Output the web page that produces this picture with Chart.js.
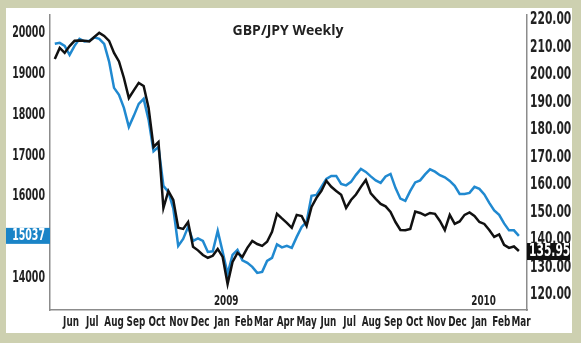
<!DOCTYPE html>
<html>
<head>
<meta charset="utf-8">
<script src="https://cdn.jsdelivr.net/npm/chart.js@4/dist/chart.umd.min.js"></script>
<style>
  html, body { margin: 0; padding: 0; background: #cdd0b0; }
  #box { position: relative; width: 581px; height: 343px; }
</style>
</head>
<body>
<div id="box"><canvas id="chart" width="581" height="343"></canvas></div>
<script>
/** Data */
const title = 'GBP/JPY Weekly';
const firstWeek = '2008-05-23';
const monthLabels = ['Jun', 'Jul', 'Aug', 'Sep', 'Oct', 'Nov', 'Dec', 'Jan', 'Feb', 'Mar', 'Apr', 'May',
                     'Jun', 'Jul', 'Aug', 'Sep', 'Oct', 'Nov', 'Dec', 'Jan', 'Feb', 'Mar'];
const yearLabels = ['2009', '2010'];
const leftTicks = [14000, 16000, 17000, 18000, 19000, 20000];
const rightTicks = [120, 130, 140, 150, 160, 170, 180, 190, 200, 210, 220];

// black line, right scale
const gbpjpy = [205.8, 209.8, 208.0, 210.5, 212.4, 212.5, 212.4, 212.2, 213.8, 215.3,
  214.2, 212.4, 208.0, 204.9, 198.9, 191.6, 194.4, 197.1, 196.0, 188.0,
  173.8, 175.6, 151.6, 157.8, 154.5, 144.4, 144.0, 146.5, 137.5, 136.2,
  134.5, 133.5, 134.2, 136.7, 133.8, 124.0, 132.0, 135.3, 133.8, 137.1,
  139.6, 138.5, 137.8, 139.3, 142.9, 149.5, 147.8, 146.2, 144.4, 149.1,
  148.7, 145.1, 152.0, 155.3, 157.8, 161.5, 159.3, 157.8, 156.4, 151.6,
  154.5, 156.5, 159.3, 161.8, 156.9, 154.9, 153.1, 152.2, 150.2, 146.5,
  143.6, 143.5, 144.0, 150.3, 149.8, 148.9, 149.8, 149.5, 146.9, 143.6,
  149.1, 145.8, 146.7, 149.1, 150.0, 148.7, 146.5, 145.8, 143.6, 141.1,
  142.0, 138.2, 137.1, 137.6, 135.95];

// blue line, left scale
const leftSeries = [19743, 19767, 19694, 19473, 19694, 19865, 19804, 19816, 19902, 19865,
  19743, 19309, 18664, 18493, 18174, 17708, 17978, 18272, 18395, 17880,
  17108, 17218, 16262, 16115, 15711, 14792, 14963, 15257, 14914, 14975,
  14914, 14644, 14657, 15159, 14644, 14105, 14571, 14694, 14436, 14375,
  14277, 14130, 14155, 14424, 14498, 14828, 14755, 14792, 14743, 15012,
  15257, 15380, 16017, 16042, 16238, 16434, 16507, 16507, 16311, 16274,
  16360, 16532, 16679, 16605, 16495, 16397, 16336, 16495, 16556, 16213,
  15949, 15895, 16140, 16346, 16397, 16542, 16667, 16610, 16525, 16471,
  16385, 16262, 16066, 16066, 16091, 16238, 16189, 16054, 15846, 15662,
  15551, 15343, 15172, 15172, 15037];

/** Helpers: x axis is days since 1 Jun 2008 */
const DAY = 86400000;
const origin = Date.UTC(2008, 5, 1);
const dayOf = (y, m, d) => (Date.UTC(y, m, d) - origin) / DAY;
const start = (Date.parse(firstWeek) - origin) / DAY;
const weekX = gbpjpy.map((_, i) => start + 7 * i);
const monthTicks = monthLabels.map((_, i) => dayOf(2008, 5 + i, 15));
const yearTicks = yearLabels.map(y => dayOf(+y, 0, 21));

// condensed look: DejaVu Condensed squeezed horizontally
const narrow = '"DejaVu Sans Condensed", "DejaVu Sans", sans-serif';
const SQUEEZE = 0.7;

function narrowText(ctx, text, x, y, size, align, color) {
  ctx.save();
  ctx.font = 'bold ' + size + 'px ' + narrow;
  ctx.fillStyle = color;
  ctx.textAlign = align;
  ctx.textBaseline = 'middle';
  ctx.translate(x, y);
  ctx.scale(SQUEEZE, 1);
  ctx.fillText(text, 0, 0);
  ctx.restore();
}

const decor = {
  id: 'decor',
  beforeDraw(chart) {
    const ctx = chart.ctx;
    ctx.save();
    ctx.fillStyle = '#cdd0b0';
    ctx.fillRect(0, 0, chart.width, chart.height);
    ctx.fillStyle = '#ffffff';
    ctx.fillRect(6, 8, 566, 325);
    ctx.restore();
  },
  afterDraw(chart) {
    const ctx = chart.ctx;
    const { x, yL, yR } = chart.scales;
    const area = chart.chartArea;

    // axis labels
    x.ticks.forEach((t, i) => narrowText(ctx, monthLabels[i], x.getPixelForValue(t.value), 322, 14, 'center', '#222'));
    yL.ticks.forEach(t => narrowText(ctx, String(t.value), area.left - 5, yL.getPixelForValue(t.value), 15, 'right', '#222'));
    yR.ticks.forEach(t => narrowText(ctx, t.value.toFixed(2), area.right + 3, yR.getPixelForValue(t.value), 17, 'left', '#222'));
    yearLabels.forEach((t, i) => narrowText(ctx, t, x.getPixelForValue(yearTicks[i]), 301, 14, 'center', '#222'));

    // title
    ctx.save();
    ctx.fillStyle = '#222';
    ctx.font = 'bold 14px "Open Sans", sans-serif';
    ctx.textAlign = 'center';
    ctx.textBaseline = 'middle';
    ctx.fillText(title, 288, 31);
    ctx.restore();

    // last value boxes
    const lastL = leftSeries[leftSeries.length - 1];
    const lastR = gbpjpy[gbpjpy.length - 1];
    let yy = yL.getPixelForValue(lastL);
    ctx.fillStyle = '#1a84c7';
    ctx.fillRect(6, yy - 8, area.left - 6, 16);
    narrowText(ctx, String(lastL), area.left - 5, yy + 0.5, 15, 'right', '#fff');
    yy = yR.getPixelForValue(lastR);
    ctx.fillStyle = '#111';
    ctx.fillRect(area.right, yy - 8, 43, 17);
    narrowText(ctx, lastR.toFixed(2), area.right + 2, yy + 0.5, 17, 'left', '#fff');
  }
};

const axisBorder = { display: true, color: '#8c8c8c', width: 1.5 };

new Chart(document.getElementById('chart'), {
  type: 'line',
  data: {
    datasets: [{
      label: 'GBP/JPY',
      data: gbpjpy.map((v, i) => ({ x: weekX[i], y: v })),
      yAxisID: 'yR',
      borderColor: '#111111',
      borderWidth: 2.5,
      pointRadius: 0,
      tension: 0
    }, {
      label: 'Left scale',
      data: leftSeries.map((v, i) => ({ x: weekX[i], y: v })),
      yAxisID: 'yL',
      borderColor: '#2089d0',
      borderWidth: 2.5,
      pointRadius: 0,
      tension: 0
    }]
  },
  options: {
    responsive: false,
    animation: false,
    layout: { padding: { top: 15, left: 0, right: 0, bottom: 0 } },
    plugins: {
      legend: { display: false },
      title: { display: false },
      tooltip: { enabled: false }
    },
    scales: {
      x: {
        type: 'linear',
        min: -15.8,
        max: 660.5,
        grid: { display: false, drawTicks: false },
        border: axisBorder,
        afterBuildTicks: s => { s.ticks = monthTicks.map(v => ({ value: v })); },
        afterFit: s => { s.height = 33; },
        ticks: { display: false, autoSkip: false }
      },
      yL: {
        position: 'left',
        min: 13220,
        max: 20450,
        grid: { display: false, drawTicks: false },
        border: axisBorder,
        afterBuildTicks: s => { s.ticks = leftTicks.map(v => ({ value: v })); },
        afterFit: s => { s.width = 50; },
        ticks: { display: false }
      },
      yR: {
        position: 'right',
        min: 114.5,
        max: 221.8,
        grid: { display: false, drawTicks: false },
        border: axisBorder,
        afterBuildTicks: s => { s.ticks = rightTicks.map(v => ({ value: v })); },
        afterFit: s => { s.width = 54; },
        ticks: { display: false }
      }
    }
  },
  plugins: [decor]
});
</script>
</body>
</html>
